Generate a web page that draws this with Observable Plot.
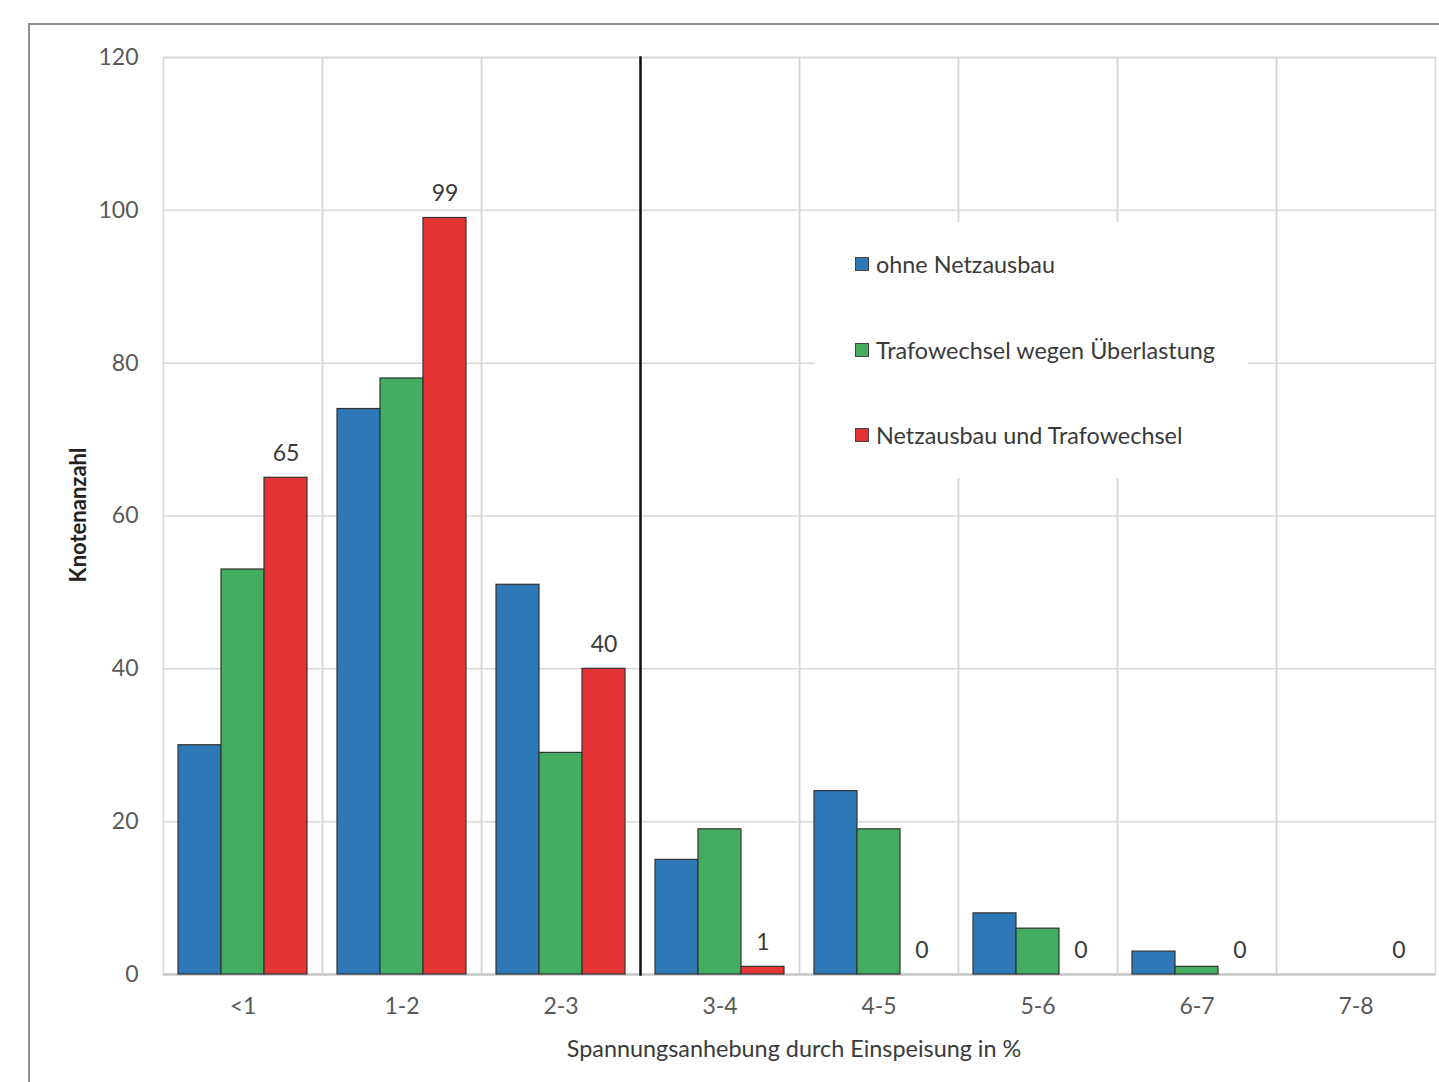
<!DOCTYPE html>
<html lang="de">
<head>
<meta charset="utf-8">
<script src="https://cdn.jsdelivr.net/npm/d3@7"></script>
<script src="https://cdn.jsdelivr.net/npm/@observablehq/plot@0.6"></script>
<style>
  html, body { margin: 0; padding: 0; background: #fff; }
  #wrap { position: relative; width: 1439px; height: 1082px; overflow: hidden; font-family: Lato, "Open Sans", sans-serif; }
  #border { position: absolute; left: 28px; top: 23px; right: -10px; bottom: -10px; border-left: 2px solid #8f8f8f; border-top: 2px solid #8f8f8f; }
  #chart { position: absolute; left: 0; top: 0; }
  #legend { position: absolute; left: 815px; top: 222px; width: 433px; height: 256px; background: #fff; }
  .item { position: absolute; left: 40px; display: flex; align-items: center; font-size: 23.4px; color: #3a3a3a; white-space: nowrap; }
  .sw { width: 12px; height: 12px; border: 1px solid #444; margin-right: 7px; }
  #ytitle { position: absolute; left: 77px; top: 515px; transform: translate(-50%, -50%) rotate(-90deg); font-size: 22px; font-weight: 700; color: #222; white-space: nowrap; }
  #xtitle { position: absolute; left: 794px; top: 1048px; transform: translate(-50%, -50%); font-size: 23.4px; color: #3a3a3a; white-space: nowrap; }
</style>
</head>
<body>
<div id="wrap">
  <div id="border"></div>
  <div id="chart"></div>
  <div id="legend"></div>
  <div id="ytitle">Knotenanzahl</div>
  <div id="xtitle">Spannungsanhebung durch Einspeisung in %</div>
</div>
<script>
// Klassen der Spannungsanhebung (x-Achse)
const categories = ["<1", "1-2", "2-3", "3-4", "4-5", "5-6", "6-7", "7-8"];
// Szenarien
const seriesNames = ["ohne Netzausbau", "Trafowechsel wegen Überlastung", "Netzausbau und Trafowechsel"];
const seriesColors = ["#2f78b7", "#43ae60", "#e43436"];
// Knotenanzahl je Klasse und Szenario
const ohneNetzausbau = [30, 74, 51, 15, 24, 8, 3, 0];
const trafowechsel   = [53, 78, 29, 19, 19, 6, 1, 0];
const netzausbau     = [65, 99, 40, 1, 0, 0, 0, 0];
// Achsenbeschriftung
const yTicks = [0, 20, 40, 60, 80, 100, 120];
// Grenze zwischen 2-3 % und 3-4 %
const dividerCategory = "3-4";

const seriesValues = [ohneNetzausbau, trafowechsel, netzausbau];
const rows = [];
categories.forEach((cat, i) => {
  seriesNames.forEach((s, j) => rows.push({cat, series: s, value: seriesValues[j][i]}));
});
const labelled = rows.filter(d => d.series === seriesNames[2]);

const chart = Plot.plot({
  width: 1439,
  height: 1082,
  marginLeft: 162,
  marginRight: 3,
  marginTop: 57,
  marginBottom: 108,
  style: {fontFamily: "Lato, 'Open Sans', sans-serif", fontSize: "23px", color: "#595959", background: "transparent", overflow: "visible"},
  fx: {domain: categories, padding: 0, tickSize: 0, tickPadding: 23, label: null, axis: "bottom"},
  x: {domain: seriesNames, paddingInner: 0, paddingOuter: 0.348, axis: null},
  y: {domain: [0, 120], ticks: yTicks, tickSize: 0, tickPadding: 25, label: null},
  color: {domain: seriesNames, range: seriesColors},
  marks: [
    Plot.ruleY(yTicks, {stroke: "#d9d9d9", strokeWidth: 1.5}),
    Plot.frame({stroke: "#d6d6d6", strokeWidth: 1.5}),
    Plot.ruleY([0], {stroke: "#c9c9c9", strokeWidth: 2.5}),
    Plot.frame({anchor: "left", fx: () => dividerCategory, stroke: "#111", strokeWidth: 2.5}),
    Plot.barY(rows.filter(d => d.value > 0), {fx: "cat", x: "series", y: "value", fill: "series", stroke: "#333", strokeWidth: 1.2}),
    Plot.text(labelled, {fx: "cat", x: "series", y: "value", text: d => String(d.value), dy: -24, fill: "#3a3a3a"})
  ]
});
document.getElementById("chart").appendChild(chart);

// Legende
const legend = document.getElementById("legend");
const rowTops = [42, 128, 213];
seriesNames.forEach((s, i) => {
  const item = document.createElement("div");
  item.className = "item";
  item.style.top = (rowTops[i] - 14) + "px";
  const sw = document.createElement("span");
  sw.className = "sw";
  sw.style.background = seriesColors[i];
  const label = document.createElement("span");
  label.textContent = s;
  item.appendChild(sw);
  item.appendChild(label);
  legend.appendChild(item);
});
</script>
</body>
</html>
